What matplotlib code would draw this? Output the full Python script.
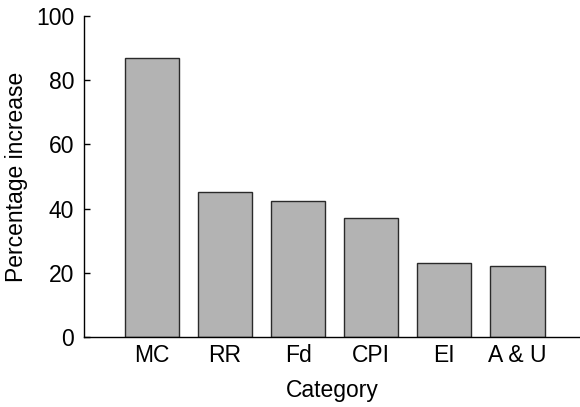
import matplotlib
matplotlib.use("Agg")
import matplotlib.pyplot as plt

categories = ["MC", "RR", "Fd", "CPI", "EI", "A & U"]
values = [86.8, 45.3, 42.5, 37.0, 23.0, 22.2]
yticks = [0, 20, 40, 60, 80, 100]

plt.rcParams['font.family'] = ['Liberation Sans', 'DejaVu Sans']
plt.rcParams['font.size'] = 16.5

fig = plt.figure(figsize=(5.8, 4.07), dpi=100)
ax = fig.add_axes([84/580, 1 - 337/407, 1 - 84/580, (337 - 16)/407])

x = list(range(len(categories)))
ax.bar(x, values, width=0.74, color="#b3b3b3", edgecolor="#2a2a2a", linewidth=1.0)

ax.set_xlim(-0.93, 5.855)
ax.set_ylim(0, 100)
ax.set_yticks(yticks)
ax.set_xticks(x)
ax.set_xticklabels(categories)
ax.spines['top'].set_visible(False)
ax.spines['right'].set_visible(False)
for s in ['left', 'bottom']:
    ax.spines[s].set_linewidth(1.0)
ax.tick_params(axis='y', direction='in', length=4.3, width=1.0, pad=7)
ax.tick_params(axis='x', length=0, pad=5.2)
ax.set_ylabel("Percentage increase", labelpad=6)
ax.set_xlabel("Category", labelpad=8.5)

fig.savefig("out.png", dpi=100)
